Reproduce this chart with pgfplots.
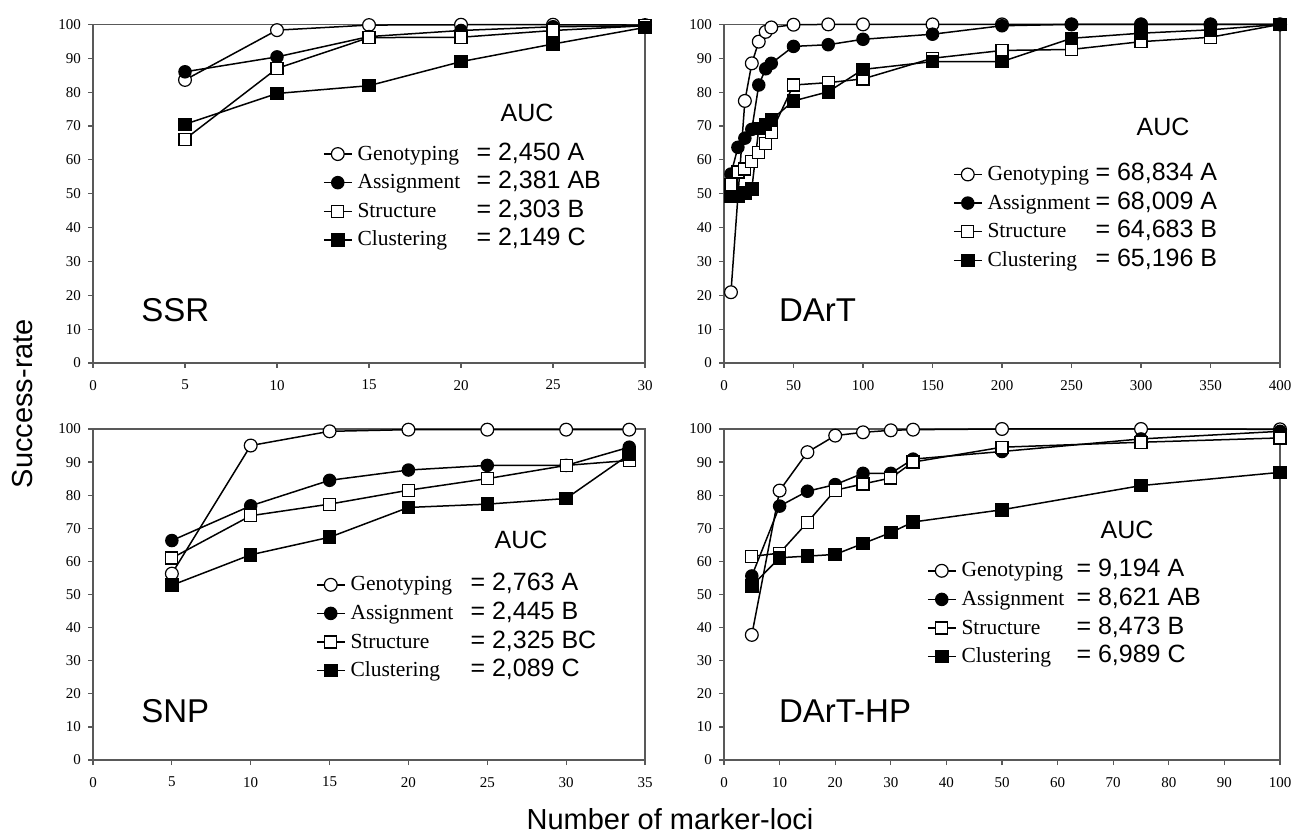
\documentclass[border=0pt]{standalone}
\usepackage{fontspec}
\setmainfont{Liberation Serif}
\setsansfont{Liberation Sans}
\newfontfamily\arial{Liberation Sans}
\usepackage{pgfplots}
\pgfplotsset{compat=1.18}
\newcommand{\val}[1]{{\arial\fontsize{12.5}{14}\selectfont #1}}
\pgfplotsset{
  panel/.style={
    scale only axis, anchor=south west,
    xmin=0, ymin=0, ymax=100,
    ytick={0,10,...,100},
    tick align=outside, xtick pos=bottom, ytick pos=left,
    major tick length=2.5pt,
    axis line style={black!65, line width=0.6pt},
    tick style={black!65, line width=0.6pt},
    tick label style={font=\fontsize{7.5}{9}\selectfont},
    xticklabel style={yshift=-2.5pt},
    /pgf/number format/assume math mode=true,
    clip=false,
    legend cell align=left,
    legend image code/.code={\draw[mark repeat=2,mark phase=2] plot coordinates {(0pt,0pt) (7pt,0pt) (14pt,0pt)};},
    legend style={anchor=north west, draw=none, fill=none, inner sep=0pt, outer sep=0pt,
      row sep=0pt, column sep=2.5pt, font=\fontsize{10.75}{12}\selectfont,
      nodes={inner sep=0pt, text height=7pt, text depth=1pt, minimum height=14.3pt}},
  },
  geno/.style={black, line width=0.75pt, mark=*, mark size=3.2pt, mark options={fill=white, draw=black, line width=0.6pt}},
  assi/.style={black, line width=0.75pt, mark=*, mark size=3pt, mark options={fill=black}},
  stru/.style={black, line width=0.75pt, mark=square*, mark size=3pt, mark options={fill=white, draw=black, line width=0.6pt}},
  clus/.style={black, line width=0.75pt, mark=square*, mark size=3pt, mark options={fill=black}},
}
\begin{document}
\begin{tikzpicture}
\path[use as bounding box] (0,0) rectangle (646.5pt,417.5pt);

% SSR
\begin{axis}[panel, at={(46.5pt,236pt)}, width=276pt, height=169.3pt,
  xmax=30, xtick={0,5,...,30}, legend style={at={(0.4167,0.6593)}}]
\addplot[geno] coordinates {(5,83.6)(10,98.3)(15,99.8)(20,99.9)(25,99.9)(30,99.8)};
\addlegendentry{\makebox[59.5pt][l]{Genotyping}\val{= 2,450 A}}
\addplot[assi] coordinates {(5,86.0)(10,90.4)(15,96.4)(20,98.2)(25,99.3)(30,99.6)};
\addlegendentry{\makebox[59.5pt][l]{Assignment}\val{= 2,381 AB}}
\addplot[stru] coordinates {(5,66.1)(10,87.0)(15,96.1)(20,96.2)(25,98.2)(30,99.6)};
\addlegendentry{\makebox[59.5pt][l]{Structure}\val{= 2,303 B}}
\addplot[clus] coordinates {(5,70.5)(10,79.6)(15,81.9)(20,89.0)(25,94.2)(30,99.1)};
\addlegendentry{\makebox[59.5pt][l]{Clustering}\val{= 2,149 C}}
\end{axis}

% DArT
\begin{axis}[panel, at={(362pt,236pt)}, width=278pt, height=169.3pt,
  xmax=400, xtick={0,50,...,400}, legend style={at={(0.4119,0.5990)}}]
\addplot[geno] coordinates {(5,20.9)(15,77.4)(20,88.5)(25,94.9)(30,97.8)(34,99.1)(50,99.9)(75,100)(100,100)(150,100)(200,100)(250,100)(300,100)(350,100)(400,100)};
\addlegendentry{\makebox[54pt][l]{Genotyping}\val{= 68,834 A}}
\addplot[assi] coordinates {(5,55.8)(10,63.7)(15,66.4)(20,69.0)(25,82.1)(30,86.9)(34,88.5)(50,93.5)(75,94.0)(100,95.6)(150,97.1)(200,99.6)(250,100)(300,100)(350,100)(400,100)};
\addlegendentry{\makebox[54pt][l]{Assignment}\val{= 68,009 A}}
\addplot[stru] coordinates {(5,52.8)(10,56.4)(15,57.3)(20,59.5)(25,62.2)(30,64.9)(34,68.1)(50,82.1)(75,82.8)(100,83.9)(150,90.0)(200,92.3)(250,92.6)(300,94.9)(350,96.2)(400,100)};
\addlegendentry{\makebox[54pt][l]{Structure}\val{= 64,683 B}}
\addplot[clus] coordinates {(5,49.2)(10,49.2)(15,50.2)(20,51.4)(25,69.3)(30,70.5)(34,71.8)(50,77.4)(75,80.1)(100,86.7)(150,89.0)(200,89.0)(250,95.9)(300,97.4)(350,98.4)(400,100)};
\addlegendentry{\makebox[54pt][l]{Clustering}\val{= 65,196 B}}
\end{axis}

% SNP
\begin{axis}[panel, at={(46.5pt,37.5pt)}, width=276pt, height=165.5pt,
  xmax=35, xtick={0,5,...,35}, legend style={at={(0.404,0.5725)}}]
\addplot[geno] coordinates {(5,56.3)(10,95.0)(15,99.3)(20,99.8)(25,99.8)(30,99.8)(34,99.8)};
\addlegendentry{\makebox[60pt][l]{Genotyping}\val{= 2,763 A}}
\addplot[assi] coordinates {(5,66.3)(10,76.8)(15,84.5)(20,87.6)(25,89.0)(30,89.0)(34,94.5)};
\addlegendentry{\makebox[60pt][l]{Assignment}\val{= 2,445 B}}
\addplot[stru] coordinates {(5,61.0)(10,73.8)(15,77.3)(20,81.5)(25,85.0)(30,89.0)(34,90.5)};
\addlegendentry{\makebox[60pt][l]{Structure}\val{= 2,325 BC}}
\addplot[clus] coordinates {(5,52.8)(10,62.0)(15,67.3)(20,76.3)(25,77.3)(30,79.0)(34,92.3)};
\addlegendentry{\makebox[60pt][l]{Clustering}\val{= 2,089 C}}
\end{axis}

% DArT-HP
\begin{axis}[panel, at={(362pt,37.5pt)}, width=278pt, height=165.5pt,
  xmax=100, xtick={0,10,...,100}, legend style={at={(0.3651,0.6148)}}]
\addplot[geno] coordinates {(5,37.8)(10,81.4)(15,93.0)(20,98.0)(25,99.0)(30,99.6)(34,99.8)(50,100)(75,100)(100,99.9)};
\addlegendentry{\makebox[57.5pt][l]{Genotyping}\val{= 9,194 A}}
\addplot[assi] coordinates {(5,55.6)(10,76.7)(15,81.2)(20,83.2)(25,86.6)(30,86.6)(34,90.9)(50,93.2)(75,97.0)(100,99.3)};
\addlegendentry{\makebox[57.5pt][l]{Assignment}\val{= 8,621 AB}}
\addplot[stru] coordinates {(5,61.5)(10,62.5)(15,71.8)(20,81.5)(25,83.4)(30,85.2)(34,90.0)(50,94.5)(75,96.0)(100,97.3)};
\addlegendentry{\makebox[57.5pt][l]{Structure}\val{= 8,473 B}}
\addplot[clus] coordinates {(5,52.6)(10,61.1)(15,61.6)(20,62.1)(25,65.4)(30,68.7)(34,71.9)(50,75.6)(75,82.9)(100,86.9)};
\addlegendentry{\makebox[57.5pt][l]{Clustering}\val{= 6,989 C}}
\end{axis}

% AUC headings
\node[anchor=center, font=\arial\fontsize{12.5}{14}\selectfont] at (263.5pt,361pt) {AUC};
\node[anchor=center, font=\arial\fontsize{12.5}{14}\selectfont] at (581.5pt,354pt) {AUC};
\node[anchor=center, font=\arial\fontsize{12.5}{14}\selectfont] at (260.5pt,147.5pt) {AUC};
\node[anchor=center, font=\arial\fontsize{12.5}{14}\selectfont] at (563.5pt,152.5pt) {AUC};
% panel labels
\node[anchor=base west, inner sep=0pt, font=\arial\fontsize{16.5}{18}\selectfont] at (70.5pt,256.5pt) {SSR};
\node[anchor=base west, inner sep=0pt, font=\arial\fontsize{16.5}{18}\selectfont] at (389.3pt,256.5pt) {DArT};
\node[anchor=base west, inner sep=0pt, font=\arial\fontsize{16.5}{18}\selectfont] at (70.5pt,56.5pt) {SNP};
\node[anchor=base west, inner sep=0pt, font=\arial\fontsize{16.5}{18}\selectfont] at (389.3pt,56.5pt) {DArT-HP};
% axis titles
\node[rotate=90, anchor=base, inner sep=0pt, font=\arial\fontsize{14.5}{16}\selectfont] at (16.5pt,215.75pt) {Success-rate};
\node[anchor=base, inner sep=0pt, font=\arial\fontsize{14.5}{16}\selectfont] at (335pt,3pt) {Number of marker-loci};
\end{tikzpicture}
\end{document}
